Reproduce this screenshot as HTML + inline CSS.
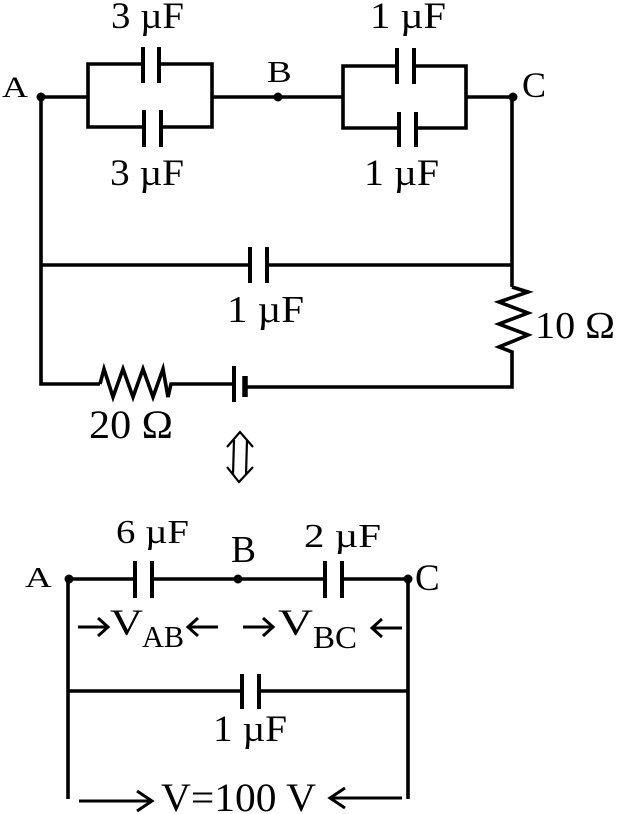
<!DOCTYPE html>
<html>
<head>
<meta charset="utf-8">
<style>
html,body{margin:0;padding:0;background:#fff;}
svg{display:block;}
text{font-family:"Liberation Serif","DejaVu Serif",serif;fill:#000;}
</style>
</head>
<body>
<svg width="617" height="814" viewBox="0 0 617 814" xmlns="http://www.w3.org/2000/svg">
<g stroke="#000" stroke-width="3.6" fill="none" stroke-linecap="butt" stroke-linejoin="miter">
  <!-- ===== TOP CIRCUIT ===== -->
  <!-- A to left box -->
  <line x1="41" y1="97" x2="88" y2="97"/>
  <!-- left parallel box -->
  <polyline points="143,64 88,64 88,127 144,127"/>
  <polyline points="159,64 212,64 212,127 161,127"/>
  <line x1="212" y1="97" x2="343" y2="97"/>
  <!-- left box cap plates -->
  <line x1="143" y1="47" x2="143" y2="83" stroke-width="4"/>
  <line x1="159" y1="47" x2="159" y2="83" stroke-width="4"/>
  <line x1="144" y1="110" x2="144" y2="147" stroke-width="4"/>
  <line x1="161" y1="110" x2="161" y2="147" stroke-width="4"/>
  <!-- right parallel box -->
  <polyline points="397,66 343,66 343,128 399,128"/>
  <polyline points="414,66 466,66 466,128 416,128"/>
  <line x1="466" y1="97" x2="513" y2="97"/>
  <line x1="397" y1="48" x2="397" y2="84" stroke-width="4"/>
  <line x1="414" y1="48" x2="414" y2="84" stroke-width="4"/>
  <line x1="399" y1="112" x2="399" y2="147" stroke-width="4"/>
  <line x1="416" y1="112" x2="416" y2="147" stroke-width="4"/>
  <!-- left vertical -->
  <polyline points="41,97 41,384 100,384"/>
  <!-- right vertical -->
  <line x1="512" y1="97" x2="512" y2="287"/>
  <polyline points="512,287 528,292 499,302 528,313 499,324 528,335 499,347 512,352 512,387 245,387"/>
  <!-- middle 1uF branch -->
  <line x1="41" y1="265" x2="250" y2="265"/>
  <line x1="267" y1="265" x2="512" y2="265"/>
  <line x1="250" y1="247" x2="250" y2="283" stroke-width="4"/>
  <line x1="267" y1="247" x2="267" y2="283" stroke-width="4"/>
  <!-- 20 ohm resistor -->
  <polyline points="100,384 104,369 113,397 123,369 133,397 143,369 153,397 163,369 168,397 171,384 234,384"/>
  <!-- battery -->
  <line x1="234" y1="366" x2="234" y2="402" stroke-width="4"/>
  <line x1="245" y1="376" x2="245" y2="397" stroke-width="5.5"/>

  <!-- double arrow -->
  <g stroke-width="2.2">
    <polyline points="227,447 240,432 253,447"/>
    <polyline points="227,467 239,482 253,467"/>
    <line x1="234" y1="440" x2="233" y2="475"/>
    <line x1="247" y1="440" x2="246" y2="475"/>
  </g>

  <!-- ===== BOTTOM CIRCUIT ===== -->
  <line x1="69" y1="579" x2="135" y2="579"/>
  <line x1="152" y1="579" x2="325" y2="579"/>
  <line x1="342" y1="579" x2="408" y2="579"/>
  <line x1="135" y1="561" x2="135" y2="598" stroke-width="4"/>
  <line x1="152" y1="561" x2="152" y2="598" stroke-width="4"/>
  <line x1="325" y1="561" x2="325" y2="598" stroke-width="4"/>
  <line x1="342" y1="561" x2="342" y2="598" stroke-width="4"/>
  <line x1="68" y1="579" x2="68" y2="799"/>
  <line x1="408" y1="579" x2="408" y2="799"/>
  <line x1="68" y1="691" x2="242" y2="691"/>
  <line x1="259" y1="691" x2="408" y2="691"/>
  <line x1="242" y1="674" x2="242" y2="709" stroke-width="4"/>
  <line x1="259" y1="674" x2="259" y2="709" stroke-width="4"/>

  <!-- small arrows -->
  <g stroke-width="3">
    <line x1="78" y1="627" x2="107" y2="627"/>
    <polyline points="98,618 108,627 98,636"/>
    <line x1="189" y1="627" x2="218" y2="627"/>
    <polyline points="198,618 188,627 198,636"/>
    <line x1="243" y1="627" x2="272" y2="627"/>
    <polyline points="263,618 273,627 263,636"/>
    <line x1="373" y1="628" x2="402" y2="628"/>
    <polyline points="382,619 372,628 382,637"/>
    <!-- long arrows -->
    <line x1="79" y1="801" x2="151" y2="801"/>
    <polyline points="137,791 152,801 137,811"/>
    <line x1="331" y1="798" x2="402" y2="798"/>
    <polyline points="345,788 330,798 345,808"/>
  </g>
</g>

<!-- dots -->
<g fill="#000">
  <circle cx="41" cy="97" r="4.5"/>
  <circle cx="278" cy="97" r="4.5"/>
  <circle cx="513" cy="97" r="4.5"/>
  <circle cx="69" cy="579" r="4.5"/>
  <circle cx="238" cy="579" r="4.5"/>
  <circle cx="408" cy="579" r="4.5"/>
</g>

<!-- ===== LABELS ===== -->
<text x="111" y="28" font-size="37" textLength="73" lengthAdjust="spacingAndGlyphs">3 µF</text>
<text x="110" y="185" font-size="37" textLength="74" lengthAdjust="spacingAndGlyphs">3 µF</text>
<text x="370" y="28" font-size="37" textLength="76" lengthAdjust="spacingAndGlyphs">1 µF</text>
<text x="364" y="185" font-size="37" textLength="75" lengthAdjust="spacingAndGlyphs">1 µF</text>
<text transform="translate(2,97) scale(1,0.82)" font-size="36">A</text>
<text transform="translate(267,82) scale(1,0.82)" font-size="37">B</text>
<text x="522" y="97" font-size="36">C</text>
<text x="227" y="322" font-size="38" textLength="77" lengthAdjust="spacingAndGlyphs">1 µF</text>
<text x="535" y="338" font-size="38" textLength="80" lengthAdjust="spacingAndGlyphs">10 Ω</text>
<text x="89" y="438" font-size="40" textLength="84" lengthAdjust="spacingAndGlyphs">20 Ω</text>

<text transform="translate(116,543) scale(1,0.9)" font-size="37" textLength="73" lengthAdjust="spacingAndGlyphs">6 µF</text>
<text x="231" y="562" font-size="38" textLength="25" lengthAdjust="spacingAndGlyphs">B</text>
<text transform="translate(25,587) scale(1,0.78)" font-size="37">A</text>
<text transform="translate(304,547) scale(1,0.9)" font-size="37" textLength="77" lengthAdjust="spacingAndGlyphs">2 µF</text>
<text x="415" y="590" font-size="37">C</text>

<text x="110" y="635" font-size="37" textLength="33" lengthAdjust="spacingAndGlyphs">V</text>
<text x="142" y="647" font-size="31" textLength="42" lengthAdjust="spacingAndGlyphs">AB</text>
<text x="278" y="635" font-size="37" textLength="35" lengthAdjust="spacingAndGlyphs">V</text>
<text x="313" y="648" font-size="32" textLength="44" lengthAdjust="spacingAndGlyphs">BC</text>

<text x="213" y="741" font-size="37" textLength="74" lengthAdjust="spacingAndGlyphs">1 µF</text>
<text x="161" y="811" font-size="40" textLength="155" lengthAdjust="spacingAndGlyphs">V=100 V</text>
</svg>
</body>
</html>
